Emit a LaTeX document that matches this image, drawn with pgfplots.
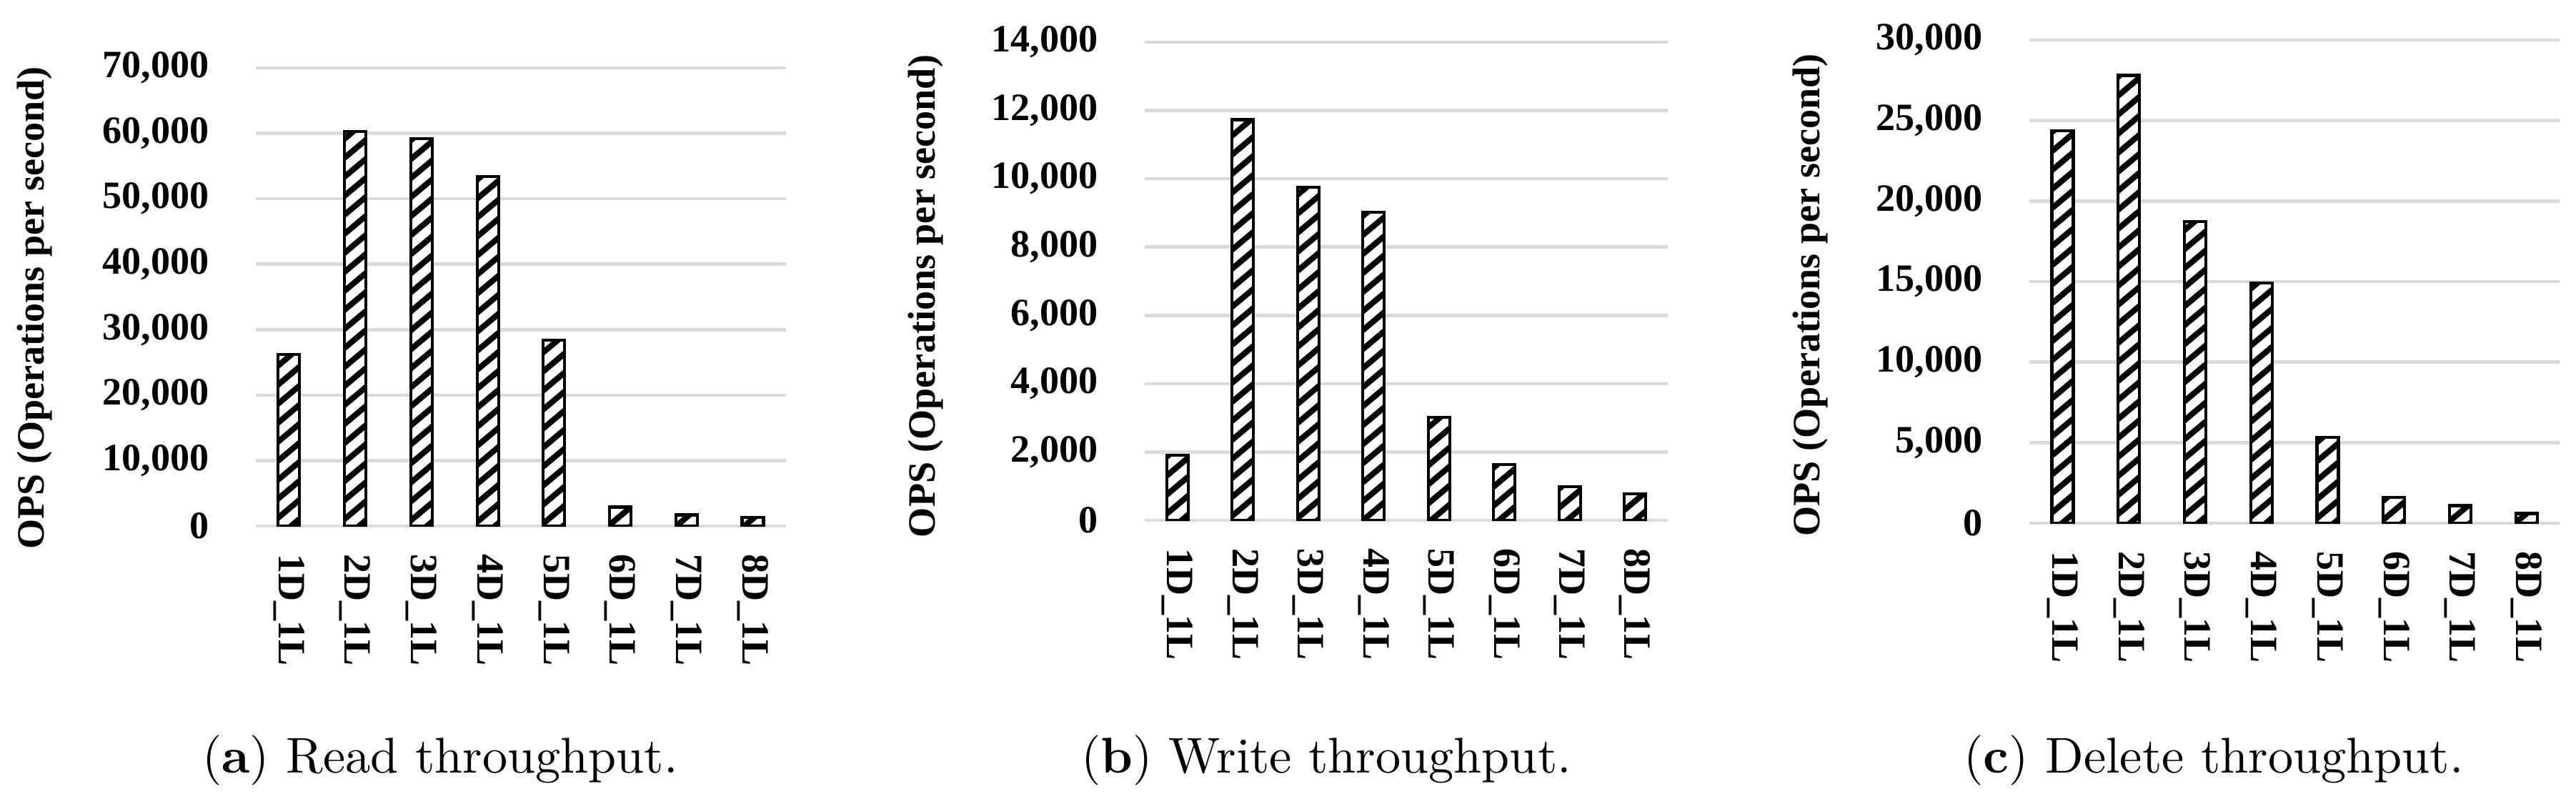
\documentclass[border=0pt]{standalone}
\usepackage{fontspec}
\usepackage{pgfplots}
\pgfplotsset{compat=1.18}
\usetikzlibrary{patterns.meta}
\newfontfamily\tnr{Liberation Serif}
\definecolor{gridgray}{RGB}{217,217,217}
\newcommand\tl{\fontsize{7.7}{9.2}\selectfont\tnr\bfseries}

\pgfplotsset{
 mybars/.style={
  scale only axis, anchor=south west,
  xmin=-0.5, xmax=7.5, ymin=0,
  xtick={0,...,7},
  xticklabels={1D\_1L,2D\_1L,3D\_1L,4D\_1L,5D\_1L,6D\_1L,7D\_1L,8D\_1L},
  axis line style={draw=none},
  major tick length=0pt,
  ymajorgrids, grid style={gridgray, line width=0.65pt},
  tick label style={font=\tl, inner sep=0pt},
  xticklabel style={rotate=-90, anchor=west},
  yticklabel style={anchor=east},
  xticklabel shift=0.19cm, yticklabel shift=0.32cm,
  scaled y ticks=false,
  /pgf/number format/fixed,
  /pgf/number format/1000 sep={,},
  /pgf/number format/assume math mode=true,
  ylabel={OPS (Operations per second)},
  ybar, bar width=0.15cm,
 },
 barstyle/.style={draw=black, line width=0.6pt, preaction={fill=white},
   pattern={Lines[angle=40,distance=2.9pt,line width=1.15pt]}, pattern color=black},
}

\begin{document}
\begin{tikzpicture}
\useasboundingbox (0,0) rectangle (18.025,5.655);

% (a) Read
\begin{axis}[mybars, at={(1.79cm,1.975cm)}, width=3.71cm, height=3.205cm,
  ymax=70000, ytick distance=10000,
  every axis y label/.style={at={([xshift=-1.55cm,yshift=-0.078cm]rel axis cs:0,0.5)}, rotate=90, anchor=center, font=\tl, inner sep=0pt}]
\addplot[barstyle] coordinates {(0,26200) (1,60300) (2,59200) (3,53400) (4,28400) (5,2900) (6,1700) (7,1300)};
\end{axis}

% (b) Write
\begin{axis}[mybars, at={(8.01cm,2.015cm)}, width=3.66cm, height=3.345cm,
  ymax=14000, ytick distance=2000,
  every axis y label/.style={at={([xshift=-1.535cm,yshift=-0.105cm]rel axis cs:0,0.5)}, rotate=90, anchor=center, font=\tl, inner sep=0pt}]
\addplot[barstyle] coordinates {(0,1910) (1,11730) (2,9750) (3,9020) (4,3010) (5,1630) (6,980) (7,780)};
\end{axis}

% (c) Delete
\begin{axis}[mybars, at={(14.2cm,1.995cm)}, width=3.71cm, height=3.38cm,
  ymax=30000, ytick distance=5000,
  every axis y label/.style={at={([xshift=-1.535cm,yshift=-0.095cm]rel axis cs:0,0.5)}, rotate=90, anchor=center, font=\tl, inner sep=0pt}]
\addplot[barstyle] coordinates {(0,24350) (1,27800) (2,18730) (3,14900) (4,5330) (5,1600) (6,1090) (7,600)};
\end{axis}

\node[anchor=base, font=\fontsize{10}{12}\selectfont] at (3.08,0.25) {(\textbf{a}) Read throughput.};
\node[anchor=base, font=\fontsize{10}{12}\selectfont] at (9.28,0.25) {(\textbf{b}) Write throughput.};
\node[anchor=base, font=\fontsize{10}{12}\selectfont] at (15.49,0.25) {(\textbf{c}) Delete throughput.};
\end{tikzpicture}
\end{document}
